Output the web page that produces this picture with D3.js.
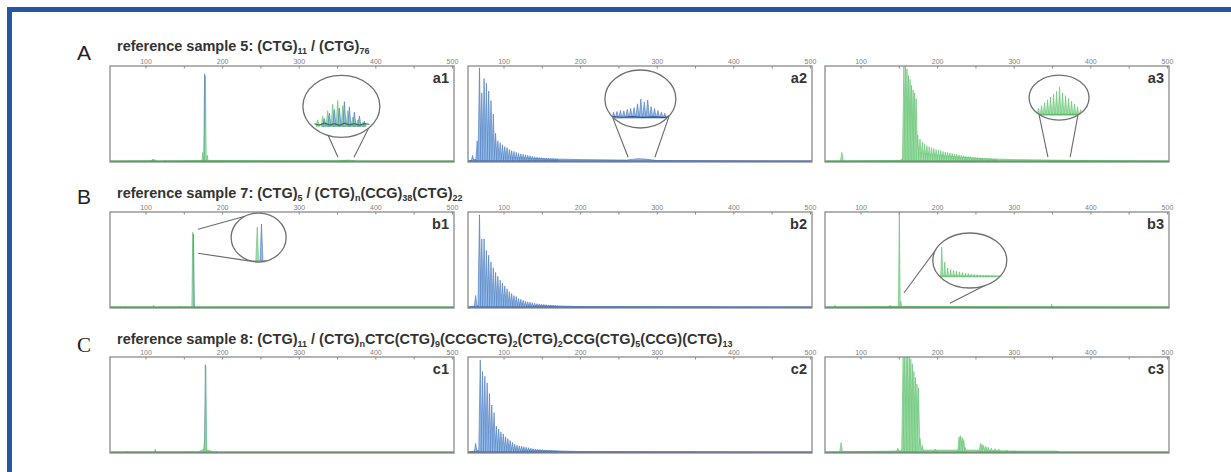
<!DOCTYPE html>
<html>
<head>
<meta charset="utf-8">
<script src="https://cdn.jsdelivr.net/npm/d3@7"></script>
<style>
body { margin: 0; background: #fff; }
svg { display: block; }
</style>
</head>
<body>
<svg id="chart" width="1231" height="472"></svg>
<script>
// ---- data ----
var bpDomain = [53, 502];
var majorTicks = [100, 200, 300, 400, 500];
var minorTicks = [150, 250, 350, 450];
var rowLetters = ["A", "B", "C"];
var rowTitles = [
    "reference sample 5: (CTG)_{11} / (CTG)_{76}",
    "reference sample 7: (CTG)_{5} / (CTG)_{n}(CCG)_{38}(CTG)_{22}",
    "reference sample 8: (CTG)_{11} / (CTG)_{n}CTC(CTG)_{9}(CCGCTG)_{2}(CTG)_{2}CCG(CTG)_{5}(CCG)(CTG)_{13}"
];
var panelLabels = [["a1", "a2", "a3"], ["b1", "b2", "b3"], ["c1", "c2", "c3"]];

// peaks: [size bp, relative signal]
var a1Blue = [[176.5, 0.92]];
var a1Green = [[177.5, 0.9], [174, 0.1], [180, 0.07], [109, 0.03], [125, 0.015], [360, 0.02]];
var a1Floor = [[53, 0.01], [105, 0.012], [110, 0.025], [115, 0.01], [170, 0.015], [185, 0.015], [350, 0.012], [365, 0.02], [375, 0.01], [502, 0.01]];

var a2Blue = [[59, 0.07], [65, 0.22], [68, 0.98], [71, 0.72], [74, 0.87], [77, 0.82], [80, 0.74], [83, 0.64], [86, 0.5],
    [89, 0.3], [92, 0.22], [95, 0.2], [98, 0.18], [101, 0.16], [104, 0.15], [107, 0.13], [110, 0.12], [113, 0.11],
    [116, 0.1], [119, 0.09], [122, 0.085], [125, 0.08], [128, 0.075], [131, 0.07], [134, 0.065], [137, 0.06],
    [140, 0.055], [143, 0.05], [146, 0.048], [149, 0.045], [152, 0.042], [155, 0.04], [158, 0.038], [161, 0.036],
    [164, 0.034], [167, 0.032], [170, 0.03]];
var a2Floor = [[53, 0.01], [70, 0.04], [100, 0.05], [150, 0.035], [200, 0.025], [260, 0.02], [275, 0.035], [285, 0.03], [300, 0.015], [502, 0.01]];

var a3Green = [[75, 0.1], [156, 1.0], [158, 1.0], [160, 0.97], [162, 0.9], [164, 0.86], [166, 0.8], [168, 0.75], [170, 0.72],
    [172, 0.66], [174, 0.28], [177, 0.24], [180, 0.21], [183, 0.19], [186, 0.17], [189, 0.16], [192, 0.15], [195, 0.14],
    [198, 0.13], [201, 0.125], [204, 0.12], [207, 0.11], [210, 0.105], [213, 0.1], [216, 0.095], [219, 0.09],
    [222, 0.085], [225, 0.08], [228, 0.075], [231, 0.07], [234, 0.065], [237, 0.06], [240, 0.058], [243, 0.055],
    [246, 0.05], [249, 0.048], [252, 0.046], [255, 0.044], [258, 0.042], [261, 0.04], [264, 0.038], [267, 0.036],
    [270, 0.034], [273, 0.032], [276, 0.03]];
var a3Floor = [[53, 0.01], [150, 0.015], [175, 0.1], [200, 0.07], [230, 0.05], [260, 0.035], [300, 0.025], [350, 0.02], [400, 0.015], [502, 0.01]];

var b1Blue = [[162, 0.77]];
var b1Green = [[161, 0.79], [73, 0.02], [110, 0.03], [144, 0.02]];
var b1Floor = [[53, 0.01], [502, 0.01]];

var b2Blue = [[63, 0.13], [68, 0.97], [71, 0.72], [74, 0.72], [77, 0.6], [80, 0.55], [83, 0.48], [86, 0.42], [89, 0.37],
    [92, 0.33], [95, 0.29], [98, 0.26], [101, 0.23], [104, 0.2], [107, 0.17], [110, 0.15], [113, 0.13], [116, 0.12],
    [119, 0.1], [122, 0.09], [125, 0.08], [128, 0.07], [131, 0.065], [134, 0.06], [137, 0.055], [140, 0.05],
    [143, 0.045], [146, 0.042], [149, 0.04], [152, 0.037], [155, 0.035], [158, 0.032], [161, 0.03], [164, 0.028],
    [167, 0.026], [170, 0.024]];
var b2Floor = [[53, 0.01], [70, 0.03], [120, 0.03], [200, 0.015], [502, 0.01]];

var b3Green = [[150, 1.0], [152, 0.07], [66, 0.03], [138, 0.03], [349, 0.04], [160, 0.02], [170, 0.015]];
var b3Floor = [[53, 0.01], [150, 0.015], [200, 0.015], [502, 0.01]];

var c1Blue = [[177.5, 0.92]];
var c1Green = [[178, 0.9], [176, 0.1], [112, 0.04], [75, 0.02], [192, 0.02]];
var c1Floor = [[53, 0.01], [168, 0.012], [174, 0.035], [182, 0.03], [188, 0.01], [502, 0.01]];

var c2Blue = [[63, 0.1], [69, 0.97], [72, 0.85], [75, 0.8], [78, 0.73], [81, 0.62], [84, 0.5], [87, 0.42], [90, 0.28],
    [93, 0.25], [96, 0.22], [99, 0.2], [102, 0.17], [105, 0.15], [108, 0.13], [111, 0.11], [114, 0.09], [117, 0.08],
    [120, 0.075], [123, 0.07], [126, 0.065], [129, 0.06], [132, 0.055], [135, 0.05], [138, 0.045], [141, 0.042],
    [144, 0.04], [147, 0.037], [150, 0.035], [153, 0.032], [156, 0.03], [159, 0.028], [162, 0.026], [165, 0.024],
    [168, 0.022], [171, 0.02]];
var c2Floor = [[53, 0.01], [70, 0.03], [130, 0.03], [200, 0.015], [502, 0.01]];

var c3Green = [[74, 0.11], [148, 0.05], [155, 1.0], [157, 1.0], [159, 1.0], [161, 1.0], [163, 1.0], [165, 0.98],
    [167, 0.93], [169, 0.85], [171, 0.79], [173, 0.72], [175, 0.68], [177, 0.15], [180, 0.08], [197, 0.04],
    [228, 0.17], [230, 0.18], [232, 0.16], [234, 0.14], [236, 0.06], [256, 0.1], [258, 0.09], [260, 0.08],
    [263, 0.07], [266, 0.06], [270, 0.05], [275, 0.045], [280, 0.04], [290, 0.03], [300, 0.025]];
var c3Floor = [[53, 0.01], [140, 0.02], [180, 0.03], [250, 0.03], [300, 0.02], [355, 0.02], [360, 0.01], [502, 0.01]];

// magnified views
var a1InGreen = [[347, 0.25], [350, 0.4], [353, 0.6], [356, 0.85], [359, 1.0], [362, 0.8], [365, 0.6], [368, 0.35], [371, 0.25], [374, 0.15]];
var a1InBlue = [[351, 0.3], [354, 0.5], [357, 0.65], [360, 0.7], [363, 0.95], [366, 0.75], [369, 0.55], [372, 0.4], [375, 0.2]];
var a1InFloor = [[345, 0.1], [348, 0.05], [351, 0.12], [354, 0.06], [357, 0.1], [360, 0.04], [363, 0.12], [366, 0.06], [369, 0.1], [372, 0.05], [375, 0.1], [378, 0.08]];

var a2InBlue = [[263, 0.3], [265, 0.35], [267, 0.4], [269, 0.38], [271, 0.45], [273, 0.5], [275, 0.55], [277, 0.75],
    [279, 1.0], [281, 0.85], [283, 0.95], [285, 0.6], [287, 0.5], [289, 0.4], [291, 0.3], [293, 0.25], [295, 0.15]];
var a2InFloor = [[262, 0.08], [268, 0.04], [274, 0.07], [280, 0.03], [286, 0.06], [292, 0.03], [296, 0.06]];

var a3InGreen = [[346, 0.25], [348, 0.35], [350, 0.45], [352, 0.55], [354, 0.65], [356, 0.75], [358, 0.85], [360, 1.0],
    [362, 0.8], [364, 0.7], [366, 0.6], [368, 0.5], [370, 0.4], [372, 0.3], [374, 0.2]];
var a3InFloor = [[345, 0.03], [375, 0.03]];

var b1InGreen = [[160.5, 0.85]];
var b1InBlue = [[162, 0.925]];
var b1InFloor = [[154, 0.0], [168, 0.0]];

var b3InGreen = [[150, 1.0], [152, 0.5], [154, 0.3], [156, 0.25], [158, 0.22], [160, 0.2], [162, 0.17], [164, 0.15],
    [166, 0.13], [168, 0.12], [170, 0.1], [172, 0.09], [174, 0.08], [176, 0.07], [178, 0.06], [180, 0.055],
    [182, 0.05], [184, 0.045], [186, 0.04]];
var b3InFloor = [[148, 0.03], [190, 0.03]];

// ---- layout / style ----
var layout = {
    rowTop: [66, 212, 357], colLeft: [110, 468, 825], w: 344, h: 96,
    titleX: 117, titleY: [51, 198, 344], letterX: 77, letterY: [60, 204, 352]
};
var colors = {
    blue: { fill: "#93bbe8", stroke: "#4473bb" },
    green: { fill: "#a6e0ae", stroke: "#5cbf6c" },
    blueFloor: "#3d5c9c", greenFloor: "#3f9b4c", frame: "#2557a7", box: "#8a8a8a"
};

var panels = [
    { r: 0, c: 0, traces: [[a1Blue, "blue"], [a1Green, "green"]], floor: a1Floor, fc: "green", hw: 1.2 },
    { r: 0, c: 1, traces: [[a2Blue, "blue"]], floor: a2Floor, fc: "blue", hw: 2.0 },
    { r: 0, c: 2, traces: [[a3Green, "green"]], floor: a3Floor, fc: "green", hw: 2.0 },
    { r: 1, c: 0, traces: [[b1Blue, "blue"], [b1Green, "green"]], floor: b1Floor, fc: "green", hw: 1.2 },
    { r: 1, c: 1, traces: [[b2Blue, "blue"]], floor: b2Floor, fc: "blue", hw: 2.0 },
    { r: 1, c: 2, traces: [[b3Green, "green"]], floor: b3Floor, fc: "green", hw: 1.2 },
    { r: 2, c: 0, traces: [[c1Blue, "blue"], [c1Green, "green"]], floor: c1Floor, fc: "green", hw: 1.2 },
    { r: 2, c: 1, traces: [[c2Blue, "blue"]], floor: c2Floor, fc: "blue", hw: 2.0 },
    { r: 2, c: 2, traces: [[c3Green, "green"]], floor: c3Floor, fc: "green", hw: 2.0 }
];

var insets = [
    { r: 0, c: 0, cx: 355, cy: 0.58, rx: 38.5, ry: 31, dom: [345, 378], xr: [-27, 28], base: 20, ih: 26, hw: 1.0,
      traces: [[a1InGreen, "green"], [a1InBlue, "blue"]], floor: a1InFloor, floorC: "#2f7a3a",
      cones: [[350.6, 0.05, 110], [371.5, 0.05, 45]] },
    { r: 0, c: 1, cx: 278, cy: 0.656, rx: 35.5, ry: 29, dom: [262, 296], xr: [-28.5, 29.5], base: 19, ih: 19, hw: 1.0,
      traces: [[a2InBlue, "blue"]], floor: a2InFloor, floorC: "#2d4f8e",
      cones: [[262, 0.05, 142], [297, 0.05, 36]] },
    { r: 0, c: 2, cx: 358.5, cy: 0.67, rx: 30, ry: 22.5, dom: [345, 375], xr: [-22, 23], base: 17.5, ih: 28, hw: 0.9,
      traces: [[a3InGreen, "green"]], floor: a3InFloor, floorC: "#5cbf6c",
      cones: [[344, 0.05, 132], [373, 0.05, 51]] },
    { r: 1, c: 0, cx: 247, cy: 0.734, rx: 27.5, ry: 24.5, dom: [154, 168], xr: [-20, 20], base: 23.5, ih: 40, hw: 0.5,
      traces: [[b1InGreen, "green"], [b1InBlue, "blue"]], floor: b1InFloor, floorC: "#888",
      cones: [[168, 0.82, 240], [168, 0.57, 100]] },
    { r: 1, c: 2, cx: 242, cy: 0.495, rx: 37, ry: 27.5, dom: [148, 190], xr: [-31, 31], base: 16.5, ih: 30, hw: 0.7,
      traces: [[b3InGreen, "green"]], floor: b3InFloor, floorC: "#6cc47a",
      cones: [[156, 0.156, 203], [216, 0.05, 67]] }
];

// ---- drawing ----
var svg = d3.select("#chart");

svg.append("rect").attr("x", 7).attr("y", 7).attr("width", 1224).attr("height", 5).attr("fill", colors.frame);
svg.append("rect").attr("x", 7).attr("y", 7).attr("width", 5).attr("height", 465).attr("fill", colors.frame);

var x = d3.scaleLinear().domain(bpDomain).range([0, layout.w]);
var y = d3.scaleLinear().domain([0, 1]).range([layout.h, 0]);

function spikePath(xs, ys, d, hw) {
    return "M" + xs(d[0] - hw) + "," + ys(0) + "L" + xs(d[0]) + "," + ys(d[1]) + "L" + xs(d[0] + hw) + "," + ys(0) + "Z";
}

function drawPeaks(g, peaks, xs, ys, hw, col) {
    g.selectAll(null)
        .data(peaks)
        .enter()
        .append("path")
        .attr("d", function (d) { return spikePath(xs, ys, d, hw); })
        .attr("fill", colors[col].fill)
        .attr("stroke", colors[col].stroke)
        .attr("stroke-width", 0.6)
        .attr("stroke-linejoin", "round");
}

// row letters and titles
rowLetters.forEach(function (L, i) {
    svg.append("text")
        .attr("x", layout.letterX)
        .attr("y", layout.letterY[i])
        .style("font-family", i == 2 ? "'Liberation Serif', serif" : "'Liberation Sans', Arial, sans-serif")
        .style("font-size", "21px")
        .style("fill", "#222")
        .text(L);

    var t = svg.append("text")
        .attr("x", layout.titleX)
        .attr("y", layout.titleY[i])
        .style("font-family", "'Liberation Sans', Arial, sans-serif")
        .style("font-weight", "bold")
        .style("font-size", "14.5px")
        .style("fill", "#333");
    var parts = rowTitles[i].split(/_\{|\}/);
    parts.forEach(function (p, k) {
        if (p === "") return;
        var sub = k % 2 == 1;
        t.append("tspan")
            .attr("dy", sub ? 3 : (k > 0 ? -3 : 0))
            .style("font-size", sub ? "9px" : "14.5px")
            .text(p);
    });
});

var floorArea = d3.area()
    .x(function (d) { return x(d[0]); })
    .y0(layout.h)
    .y1(function (d) { return y(d[1]); });

panels.forEach(function (p, idx) {
    var g = svg.append("g")
        .attr("transform", "translate(" + layout.colLeft[p.c] + "," + layout.rowTop[p.r] + ")");

    g.append("clipPath").attr("id", "clip" + idx)
        .append("rect").attr("width", layout.w).attr("height", layout.h);

    var plot = g.append("g").attr("clip-path", "url(#clip" + idx + ")");

    plot.append("path")
        .datum(p.floor)
        .attr("d", floorArea)
        .attr("fill", colors[p.fc].fill)
        .attr("stroke", colors[p.fc].stroke)
        .attr("stroke-width", 0.6);

    p.traces.forEach(function (tr) {
        drawPeaks(plot, tr[0], x, y, p.hw, tr[1]);
    });

    plot.append("line")
        .attr("x1", 0).attr("x2", layout.w)
        .attr("y1", layout.h - 0.8).attr("y2", layout.h - 0.8)
        .attr("stroke", p.fc == "blue" ? colors.blueFloor : colors.greenFloor)
        .attr("stroke-width", 1.6);

    // top axis
    var axis = g.append("g").attr("class", "x_axis");
    axis.selectAll("tick")
        .data(majorTicks.concat(minorTicks))
        .enter()
        .append("line")
        .attr("x1", function (d) { return x(d); })
        .attr("x2", function (d) { return x(d); })
        .attr("y1", 0).attr("y2", 2.5)
        .attr("stroke", "#888");
    axis.selectAll("lbl")
        .data(majorTicks)
        .enter()
        .append("text")
        .attr("x", function (d) { return x(d); })
        .attr("y", -2.5)
        .style("text-anchor", "middle")
        .style("font-family", "'Liberation Sans', Arial, sans-serif")
        .style("font-size", "7px")
        .style("fill", "#808080")
        .text(function (d) { return d; });

    g.append("rect")
        .attr("width", layout.w).attr("height", layout.h)
        .attr("fill", "none")
        .attr("stroke", colors.box)
        .attr("stroke-width", 1.3);

    g.append("text")
        .attr("class", "panel_label")
        .attr("x", layout.w - 5)
        .attr("y", 17)
        .style("text-anchor", "end")
        .style("font-family", "'Liberation Sans', Arial, sans-serif")
        .style("font-weight", "bold")
        .style("font-size", "14.5px")
        .style("fill", "#333")
        .text(panelLabels[p.r][p.c]);
});

insets.forEach(function (s, idx) {
    var g = svg.append("g")
        .attr("transform", "translate(" + layout.colLeft[s.c] + "," + layout.rowTop[s.r] + ")");
    var cx = x(s.cx), cy = y(s.cy);

    // connector lines from the trace to the magnifier
    g.selectAll(null)
        .data(s.cones)
        .enter()
        .append("line")
        .attr("x1", function (d) { return x(d[0]); })
        .attr("y1", function (d) { return y(d[1]); })
        .attr("x2", function (d) { return cx + s.rx * Math.cos(d[2] * Math.PI / 180); })
        .attr("y2", function (d) { return cy + s.ry * Math.sin(d[2] * Math.PI / 180); })
        .attr("stroke", "#6a6a6a")
        .attr("stroke-width", 1.1);

    var lens = g.append("g").attr("transform", "translate(" + cx + "," + cy + ")");
    lens.append("clipPath").attr("id", "lens" + idx)
        .append("ellipse").attr("rx", s.rx).attr("ry", s.ry);
    lens.append("ellipse")
        .attr("rx", s.rx).attr("ry", s.ry)
        .attr("fill", "#fff");

    var inner = lens.append("g").attr("clip-path", "url(#lens" + idx + ")");
    var ix = d3.scaleLinear().domain(s.dom).range(s.xr);
    var iy = d3.scaleLinear().domain([0, 1]).range([s.base, s.base - s.ih]);

    s.traces.forEach(function (tr) {
        drawPeaks(inner, tr[0], ix, iy, s.hw, tr[1]);
    });

    inner.append("path")
        .datum(s.floor)
        .attr("d", d3.line().x(function (d) { return ix(d[0]); }).y(function (d) { return iy(d[1]); }))
        .attr("fill", "none")
        .attr("stroke", s.floorC)
        .attr("stroke-width", 1.2);

    lens.append("ellipse")
        .attr("rx", s.rx).attr("ry", s.ry)
        .attr("fill", "none")
        .attr("stroke", "#707070")
        .attr("stroke-width", 1.3);
});
</script>
</body>
</html>
